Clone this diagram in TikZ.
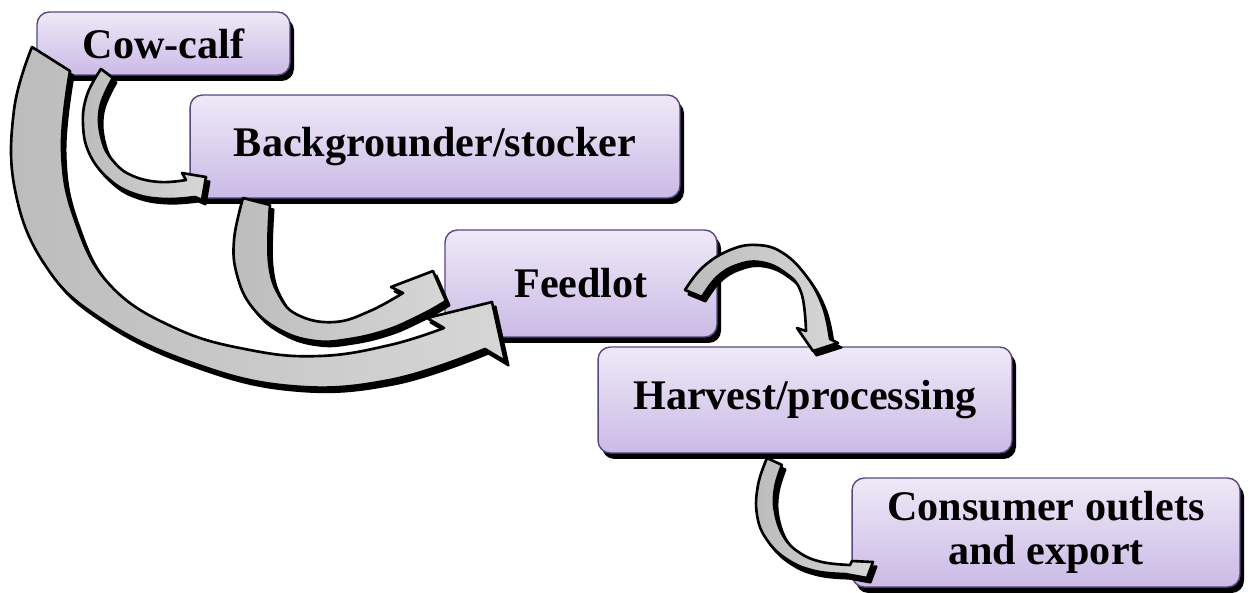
\documentclass[tikz,border=0pt]{standalone}
\usepackage{fontspec}
\setmainfont{Liberation Serif}
\usetikzlibrary{shadows}

\definecolor{lavtop}{RGB}{238,233,247}
\definecolor{lavbot}{RGB}{203,186,230}
\definecolor{boxedge}{RGB}{92,70,128}
\definecolor{bandlight}{RGB}{214,214,214}
\definecolor{banddark}{RGB}{188,188,188}

\tikzset{
  stage/.style={rectangle, rounded corners=7pt, draw=boxedge, line width=0.8pt,
    top color=lavtop, bottom color=lavbot, inner sep=0pt, align=center,
    font=\bfseries\fontsize{24}{25}\selectfont,
    drop shadow={shadow xshift=2.3pt, shadow yshift=-3.4pt, fill=black, opacity=1}},
  bandshadow/.style={fill=black, draw=black, line width=1.2pt, line join=round, shift={(3.5,4.5)}},
  bandbody/.style={draw=black, line width=1.5pt, line join=round,
    left color=banddark, right color=bandlight},
}

% curved block arrow: black offset shadow, then the grey band on top
\newcommand\bandarrow[1]{%
  \path[bandshadow] #1;
  \path[bandbody] #1;
}

\begin{document}
\begin{tikzpicture}[x=0.02cm, y=-0.02cm]
\useasboundingbox (0,0) rectangle (1250,592);

% production stages
\node[stage, minimum width=5.06cm, minimum height=1.26cm] (cow) at (163.5,43.5) {Cow-calf};
\node[stage, minimum width=9.8cm, minimum height=2.06cm] (back) at (435,146.5) {Backgrounder/stocker};
\node[stage, minimum width=5.44cm, minimum height=2.14cm] (feed) at (581,283.5) {Feedlot};
\node[stage, minimum width=8.28cm, minimum height=2.12cm] (harv) at (805,400) {Harvest/processing};
\node[stage, minimum width=7.76cm, minimum height=2.18cm] (cons) at (1046,532.5) {Consumer outlets\\and export};

% cow-calf -> backgrounder
\bandarrow{plot[smooth, tension=0.7] coordinates {(101,69) (87,95) (83,125) (90,155) (110,180) (135,194) (165,199) (195,197)}
  -- (202,200) -- (206,177) -- (182,173) -- (186,180)
  -- plot[smooth, tension=0.7] coordinates {(186,180) (160,182) (133,176) (114,162) (102,140) (100,108) (113,78)} -- cycle}

% backgrounder -> feedlot
\bandarrow{plot[smooth, tension=0.7] coordinates {(243,198) (234,240) (237,275) (252,307) (280,330) (315,341) (350,339) (387,330) (417,317) (436,307)}
  -- (446,301) -- (433,271) -- (391,287) -- (403,293)
  -- plot[smooth, tension=0.7] coordinates {(403,293) (370,311) (335,322) (300,316) (280,297) (269,262) (270,205)} -- cycle}

% cow-calf -> feedlot
\bandarrow{plot[smooth, tension=0.7] coordinates {(32,47) (14,110) (15,190) (45,265) (100,318) (190,362) (290,386) (390,380) (485,349)}
  -- (505,361) -- (492,302) -- (427,318) -- (444,328)
  -- plot[smooth, tension=0.7] coordinates {(444,328) (390,345) (320,356) (250,350) (175,328) (110,285) (75,220) (62,150) (70,71)} -- cycle}

% feedlot -> harvest
\bandarrow{plot[smooth, tension=0.7] coordinates {(685,290) (703,267) (730,250) (757,245) (783,253) (807,277) (823,307) (830,339)}
  -- (838,343) -- (813,351) -- (797,328) -- (806,331)
  -- plot[smooth, tension=0.7] coordinates {(806,331) (801,292) (784,272) (760,262) (737,265) (717,277) (702,297)} -- cycle}

% harvest -> consumer
\bandarrow{plot[smooth, tension=0.7] coordinates {(767,458) (758,485) (757,515) (767,540) (788,560) (815,571) (845,574)}
  -- (867,578) -- (873,562) -- (852,561) -- (850,565)
  -- plot[smooth, tension=0.7] coordinates {(850,565) (822,562) (800,553) (784,537) (775,512) (775,488) (782,465)} -- cycle}
\end{tikzpicture}
\end{document}
